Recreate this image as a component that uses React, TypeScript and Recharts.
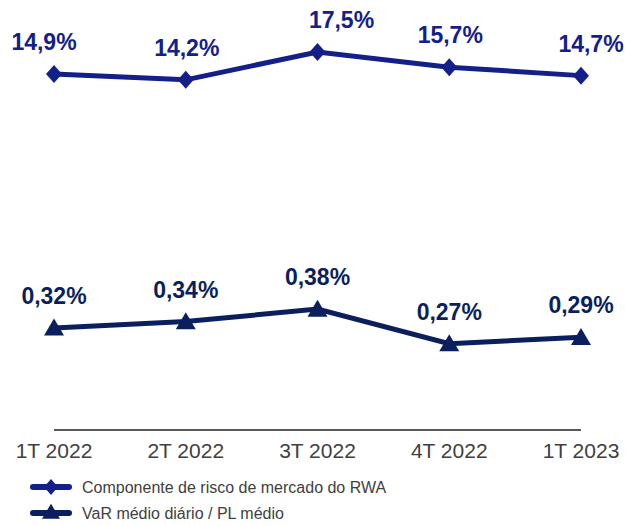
import React from 'react';
import { LineChart, Line, XAxis, YAxis } from 'recharts';

const quarters = ['1T 2022', '2T 2022', '3T 2022', '4T 2022', '1T 2023'];
const rwaShare = [14.9, 14.2, 17.5, 15.7, 14.7];
const varShare = [0.32, 0.34, 0.38, 0.27, 0.29];

const RWA_NAME = 'Componente de risco de mercado do RWA';
const VAR_NAME = 'VaR médio diário / PL médio';

const RWA_COLOR = '#13208A';
const VAR_COLOR = '#0B1F5E';
const FONT = 'Liberation Sans, Arial, sans-serif';

// labels on the top line were nudged by hand in the original
const rwaLabelDx = [-10, 1, 24, 1, 10];

const data = quarters.map((q, i) => ({ q, rwa: rwaShare[i], v: varShare[i] }));

const fmt = (n: number, d: number) => n.toFixed(d).replace('.', ',') + '%';

const Diamond = (props: any) => {
  const { cx, cy, fill, size = 9 } = props;
  if (cx == null || cy == null) return null;
  const s = size;
  return (
    <path d={`M${cx},${cy - s} L${cx + s - 1},${cy} L${cx},${cy + s} L${cx - s + 1},${cy} Z`} fill={fill} />
  );
};

const Triangle = (props: any) => {
  const { cx, cy, fill, tw = 10, th = 17 } = props;
  if (cx == null || cy == null) return null;
  return (
    <path
      d={`M${cx},${cy - th * 0.55} L${cx + tw},${cy + th * 0.45} L${cx - tw},${cy + th * 0.45} Z`}
      fill={fill}
    />
  );
};

const makeLabel = (color: string, digits: number, dxs?: number[]) => (props: any) => {
  const { x, y, value, index } = props;
  return (
    <text
      x={x + (dxs ? dxs[index] : 0)}
      y={y - 32}
      textAnchor="middle"
      dominantBaseline="central"
      fill={color}
      fontSize={23}
      fontWeight="bold"
      fontFamily={FONT}
    >
      {fmt(value, digits)}
    </text>
  );
};

const LegendBox = () => (
  <svg width={440} height={48} style={{ display: 'block' }}>
    <line x1={33} x2={69} y1={9} y2={9} stroke={RWA_COLOR} strokeWidth={6} strokeLinecap="round" />
    <Diamond cx={51} cy={9} fill={RWA_COLOR} size={8} />
    <text x={82} y={9} dominantBaseline="central" fontSize={16} fill="#404040" fontFamily={FONT}>
      {RWA_NAME}
    </text>
    <line x1={33} x2={69} y1={35} y2={35} stroke={VAR_COLOR} strokeWidth={6} strokeLinecap="round" />
    <Triangle cx={51} cy={34} fill={VAR_COLOR} tw={9} th={15} />
    <text x={82} y={35} dominantBaseline="central" fontSize={16} fill="#404040" fontFamily={FONT}>
      {VAR_NAME}
    </text>
  </svg>
);

export default function App() {
  return (
    <div style={{ position: 'absolute', left: 0, top: 0, width: 625, height: 526, fontFamily: FONT }}>
      <LineChart width={625} height={478} data={data} margin={{ top: 10, right: 44, left: 54, bottom: 18 }}>
        <XAxis
          dataKey="q"
          height={30}
          padding={{ left: 0, right: 0 }}
          tickLine={false}
          axisLine={{ stroke: '#595959', strokeWidth: 2 }}
          tick={{ fill: '#404040', fontSize: 21 }}
          tickMargin={7}
          interval={0}
        />
        <YAxis yAxisId="top" hide domain={[-27.2, 22.46]} />
        <YAxis yAxisId="bottom" hide domain={[-0.004, 1.329]} />
        <Line
          yAxisId="top"
          dataKey="rwa"
          name={RWA_NAME}
          stroke={RWA_COLOR}
          strokeWidth={5}
          dot={<Diamond fill={RWA_COLOR} />}
          activeDot={false}
          label={makeLabel(RWA_COLOR, 1, rwaLabelDx)}
          isAnimationActive={false}
        />
        <Line
          yAxisId="bottom"
          dataKey="v"
          name={VAR_NAME}
          stroke={VAR_COLOR}
          strokeWidth={5}
          dot={<Triangle fill={VAR_COLOR} />}
          activeDot={false}
          label={makeLabel(VAR_COLOR, 2)}
          isAnimationActive={false}
        />
      </LineChart>
      <LegendBox />
    </div>
  );
}
